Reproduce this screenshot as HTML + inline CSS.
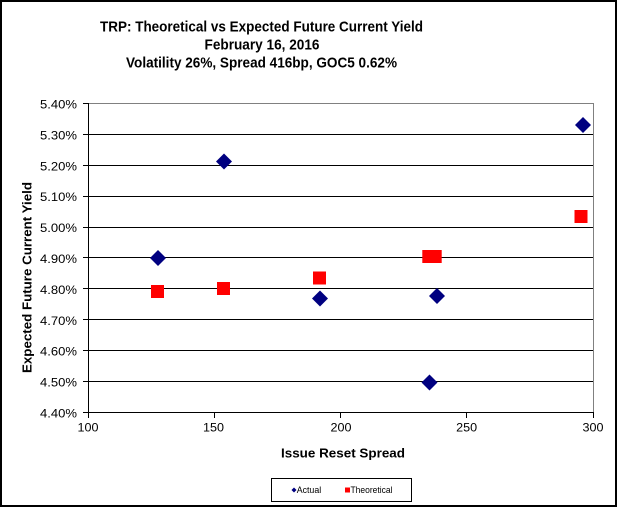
<!DOCTYPE html>
<html>
<head>
<meta charset="utf-8">
<style>
  html, body { margin: 0; padding: 0; background: #fff; }
  svg { display: block; }
  text { font-family: "Liberation Sans", Arial, sans-serif; fill: #000; }
</style>
</head>
<body>
<svg width="619" height="509" viewBox="0 0 619 509" xmlns="http://www.w3.org/2000/svg">
  <rect x="0" y="0" width="619" height="509" fill="#fff"/>
  <!-- outer frame -->
  <rect x="1" y="1" width="615" height="505" fill="none" stroke="#000" stroke-width="2"/>

  <!-- title -->
  <text x="261.5" y="31.5" font-size="15" font-weight="bold" text-anchor="middle" textLength="323" lengthAdjust="spacingAndGlyphs">TRP: Theoretical vs Expected Future Current Yield</text>
  <text x="262" y="49.5" font-size="15" font-weight="bold" text-anchor="middle" textLength="115" lengthAdjust="spacingAndGlyphs">February 16, 2016</text>
  <text x="261.5" y="67.5" font-size="15" font-weight="bold" text-anchor="middle" textLength="271" lengthAdjust="spacingAndGlyphs">Volatility 26%, Spread 416bp, GOC5 0.62%</text>

  <g shape-rendering="crispEdges">
    <!-- plot border (gray top/right) -->
    <line x1="88" y1="103.5" x2="593.5" y2="103.5" stroke="#808080" stroke-width="1"/>
    <line x1="593.5" y1="103" x2="593.5" y2="412" stroke="#808080" stroke-width="1"/>
    <!-- gridlines -->
    <g stroke="#000" stroke-width="1">
      <line x1="88" y1="134.5" x2="593" y2="134.5"/>
      <line x1="88" y1="165.5" x2="593" y2="165.5"/>
      <line x1="88" y1="196.5" x2="593" y2="196.5"/>
      <line x1="88" y1="227.5" x2="593" y2="227.5"/>
      <line x1="88" y1="257.5" x2="593" y2="257.5"/>
      <line x1="88" y1="288.5" x2="593" y2="288.5"/>
      <line x1="88" y1="319.5" x2="593" y2="319.5"/>
      <line x1="88" y1="350.5" x2="593" y2="350.5"/>
      <line x1="88" y1="381.5" x2="593" y2="381.5"/>
    </g>
    <!-- axes -->
    <line x1="88.5" y1="103" x2="88.5" y2="413" stroke="#000" stroke-width="1"/>
    <line x1="88" y1="412.5" x2="594" y2="412.5" stroke="#000" stroke-width="1"/>
    <!-- y ticks -->
    <g stroke="#000" stroke-width="1">
      <line x1="83" y1="103.5" x2="88" y2="103.5"/>
      <line x1="83" y1="134.5" x2="88" y2="134.5"/>
      <line x1="83" y1="165.5" x2="88" y2="165.5"/>
      <line x1="83" y1="196.5" x2="88" y2="196.5"/>
      <line x1="83" y1="227.5" x2="88" y2="227.5"/>
      <line x1="83" y1="257.5" x2="88" y2="257.5"/>
      <line x1="83" y1="288.5" x2="88" y2="288.5"/>
      <line x1="83" y1="319.5" x2="88" y2="319.5"/>
      <line x1="83" y1="350.5" x2="88" y2="350.5"/>
      <line x1="83" y1="381.5" x2="88" y2="381.5"/>
      <line x1="83" y1="412.5" x2="88" y2="412.5"/>
    </g>
    <!-- x ticks -->
    <g stroke="#000" stroke-width="1">
      <line x1="88.5" y1="412" x2="88.5" y2="418"/>
      <line x1="214.5" y1="412" x2="214.5" y2="418"/>
      <line x1="340.5" y1="412" x2="340.5" y2="418"/>
      <line x1="466.5" y1="412" x2="466.5" y2="418"/>
      <line x1="593.5" y1="412" x2="593.5" y2="418"/>
    </g>
  </g>

  <!-- y tick labels -->
  <g font-size="12" text-anchor="end">
    <text x="77" y="108.5" textLength="37" lengthAdjust="spacingAndGlyphs">5.40%</text>
    <text x="77" y="139.4" textLength="37" lengthAdjust="spacingAndGlyphs">5.30%</text>
    <text x="77" y="170.3" textLength="37" lengthAdjust="spacingAndGlyphs">5.20%</text>
    <text x="77" y="201.2" textLength="37" lengthAdjust="spacingAndGlyphs">5.10%</text>
    <text x="77" y="232.1" textLength="37" lengthAdjust="spacingAndGlyphs">5.00%</text>
    <text x="77" y="263" textLength="37" lengthAdjust="spacingAndGlyphs">4.90%</text>
    <text x="77" y="293.9" textLength="37" lengthAdjust="spacingAndGlyphs">4.80%</text>
    <text x="77" y="324.8" textLength="37" lengthAdjust="spacingAndGlyphs">4.70%</text>
    <text x="77" y="355.7" textLength="37" lengthAdjust="spacingAndGlyphs">4.60%</text>
    <text x="77" y="386.6" textLength="37" lengthAdjust="spacingAndGlyphs">4.50%</text>
    <text x="77" y="417.5" textLength="37" lengthAdjust="spacingAndGlyphs">4.40%</text>
  </g>

  <!-- x tick labels -->
  <g font-size="12" text-anchor="middle">
    <text x="88" y="431.5" textLength="21" lengthAdjust="spacingAndGlyphs">100</text>
    <text x="213.5" y="431.5" textLength="21" lengthAdjust="spacingAndGlyphs">150</text>
    <text x="341" y="431.5" textLength="21" lengthAdjust="spacingAndGlyphs">200</text>
    <text x="466.7" y="431.5" textLength="21" lengthAdjust="spacingAndGlyphs">250</text>
    <text x="593" y="431.5" textLength="21" lengthAdjust="spacingAndGlyphs">300</text>
  </g>

  <!-- axis titles -->
  <text x="343" y="457.5" font-size="12.5" font-weight="bold" text-anchor="middle" textLength="124" lengthAdjust="spacingAndGlyphs">Issue Reset Spread</text>
  <text transform="translate(31.5,277.5) rotate(-90)" x="0" y="0" font-size="12.5" font-weight="bold" text-anchor="middle" textLength="191" lengthAdjust="spacingAndGlyphs">Expected Future Current Yield</text>

  <!-- Theoretical squares -->
  <g fill="#ff0000">
    <rect x="151" y="285" width="13" height="13"/>
    <rect x="217" y="282" width="13" height="13"/>
    <rect x="313" y="271.5" width="13" height="13"/>
    <rect x="422.3" y="250" width="13" height="13"/>
    <rect x="428.7" y="250" width="13" height="13"/>
    <rect x="574.5" y="210" width="13" height="13"/>
  </g>

  <!-- Actual diamonds -->
  <g fill="#000080">
    <polygon points="158,250 166,258 158,266 150,258"/>
    <polygon points="224,153.5 232,161.5 224,169.5 216,161.5"/>
    <polygon points="320,290.5 328,298.5 320,306.5 312,298.5"/>
    <polygon points="429.5,374.5 437.5,382.5 429.5,390.5 421.5,382.5"/>
    <polygon points="437,288 445,296 437,304 429,296"/>
    <polygon points="583,117 591,125 583,133 575,125"/>
  </g>

  <!-- legend -->
  <rect x="271.5" y="478.5" width="140" height="23" fill="#fff" stroke="#000" stroke-width="1" shape-rendering="crispEdges"/>
  <polygon points="294,487.5 296.5,490 294,492.5 291.5,490" fill="#000080"/>
  <text x="296.7" y="493" font-size="9" textLength="24.5" lengthAdjust="spacingAndGlyphs">Actual</text>
  <rect x="345" y="487.5" width="5" height="5" fill="#ff0000"/>
  <text x="350.5" y="493" font-size="9" textLength="42" lengthAdjust="spacingAndGlyphs">Theoretical</text>
</svg>
</body>
</html>
